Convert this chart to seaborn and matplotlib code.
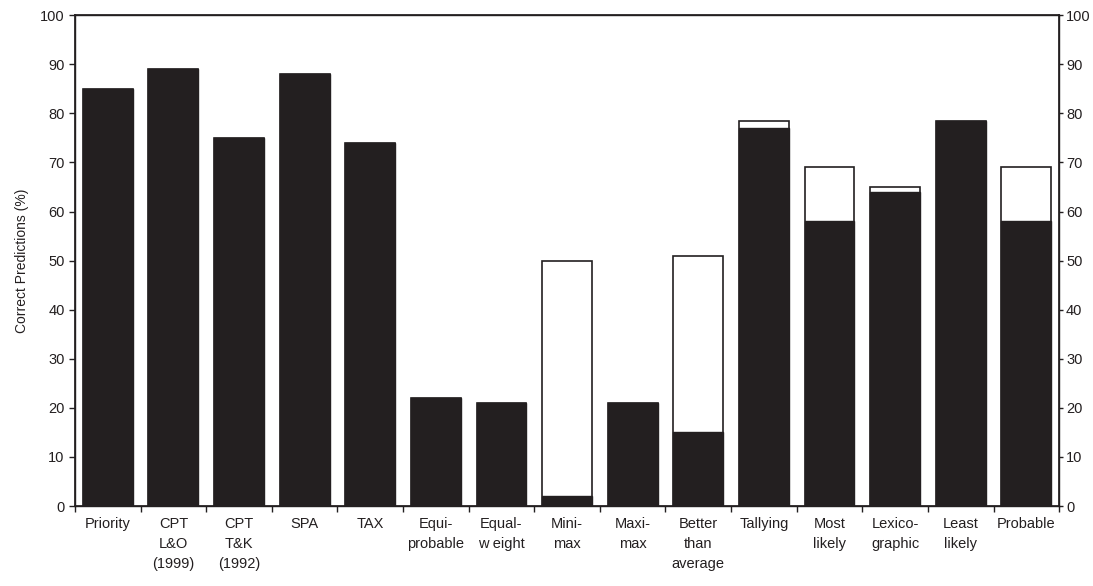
import pandas as pd
import seaborn as sns
import matplotlib.pyplot as plt
from matplotlib.ticker import FixedLocator

# Datos
categorias = ['Priority', 'CPT\nL&O\n(1999)', 'CPT\nT&K\n(1992)', 'SPA', 'TAX',
              'Equi-\nprobable', 'Equal-\nw eight', 'Mini-\nmax', 'Maxi-\nmax',
              'Better\nthan\naverage', 'Tallying', 'Most\nlikely', 'Lexico-\ngraphic',
              'Least\nlikely', 'Probable']
total = [85, 89, 75, 88, 74, 22, 21, 50, 21, 51, 78.5, 69, 65, 78.5, 69]
negro = [85, 89, 75, 88, 74, 22, 21, 2, 21, 15, 77, 58, 64, 78.5, 58]

df = pd.DataFrame({'cat': categorias, 'total': total, 'negro': negro})

sns.set_theme(style='ticks')
plt.rcParams['font.family'] = ['Liberation Sans', 'DejaVu Sans']

fig, ax = plt.subplots(figsize=(10.93, 5.86), dpi=100)
fig.subplots_adjust(left=0.0686, right=0.969, top=0.974, bottom=0.1365)

sns.barplot(data=df, x='cat', y='total', color='white', edgecolor='#231f20',
            linewidth=1.2, width=0.76, ax=ax, saturation=1)
sns.barplot(data=df, x='cat', y='negro', color='#231f20', edgecolor='#231f20',
            linewidth=1.0, width=0.76, ax=ax, saturation=1)

ax.set_xlim(-0.5, len(categorias) - 0.5)
ax.set_ylim(0, 100)
ax.set_yticks(range(0, 101, 10))
ax.set_xlabel('')
ax.set_ylabel('Correct Predictions (%)', fontsize=10, color='#231f20', labelpad=8)

# etiquetas centradas, marcas entre categorías
ax.tick_params(axis='x', which='major', length=0, labelsize=10.5, pad=8, colors='#231f20')
for t in ax.get_xticklabels():
    t.set_linespacing(1.55)
ax.xaxis.set_minor_locator(FixedLocator([i + 0.5 for i in range(-1, len(categorias))]))
ax.tick_params(axis='x', which='minor', length=4, width=1, color='#231f20')
ax.tick_params(axis='y', labelsize=10.5, length=4, width=1, colors='#231f20')

for s in ax.spines.values():
    s.set_color('#231f20')
    s.set_linewidth(1.0)

ax2 = ax.twinx()
ax2.set_ylim(0, 100)
ax2.set_yticks(range(0, 101, 10))
ax2.tick_params(axis='y', labelsize=10.5, length=3, width=1, pad=2, colors='#231f20')
for s in ax2.spines.values():
    s.set_color('#231f20')

fig.savefig('out.png', dpi=100)
